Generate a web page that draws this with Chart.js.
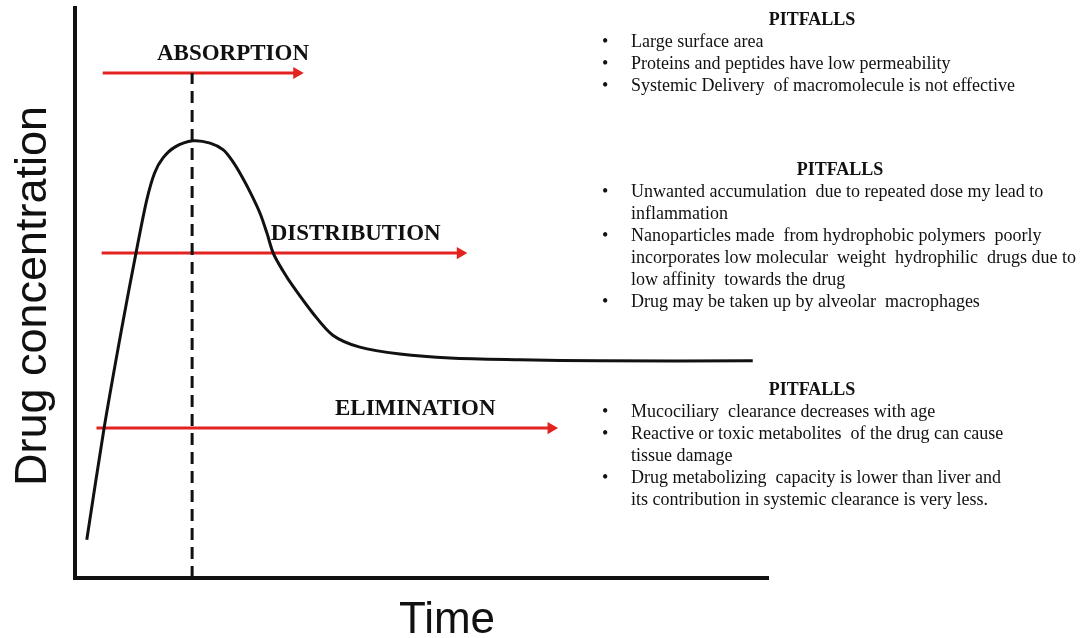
<!DOCTYPE html>
<html>
<head>
<meta charset="utf-8">
<script src="https://cdn.jsdelivr.net/npm/chart.js@4/dist/chart.umd.min.js"></script>
<style>
  body { margin:0; background:#fff; }
  #wrap { width:1083px; height:638px; }
</style>
</head>
<body>
<div id="wrap"><canvas id="myChart" width="1083" height="638"></canvas></div>
<script>
// 곡선 데이터 (x: 시간, y: 농도) - 그림에서 읽은 값
const timeVals = [1.7, 4.2, 6.7, 8.8, 10.35, 11.5, 12.7, 14.4, 17.0, 19.5, 21.4, 22.8, 24.1, 25.4, 26.7, 27.7, 28.6, 30.0, 31.5, 34.3, 37.2, 41.1, 46.9, 54.1, 64.2, 75.8, 97.8];
const concVals = [6.7, 26.3, 43.5, 57.0, 66.3, 71.1, 73.7, 75.6, 76.7, 76.3, 75.1, 73.0, 70.4, 67.4, 64.0, 60.5, 57.0, 53.9, 51.1, 46.5, 42.6, 40.5, 39.3, 38.6, 38.3, 38.1, 38.1];

// 피크 점선
const peakTime = 16.9;
const peakLineTop = 88.6;

// 단계 화살표 (시작x, 끝x, 높이)
const phaseNames = ['ABSORPTION', 'DISTRIBUTION', 'ELIMINATION'];
const arrowStart = [4.0, 3.85, 3.1];
const arrowEnd = [32.0, 55.6, 68.7];
const arrowLevel = [88.6, 57.0, 26.3];
const labelX = [22.8, 40.5, 49.1];

// 오른쪽 PITFALLS 텍스트
const pitfallTitle = 'PITFALLS';
const pitfalls = [
  [ ['Large surface area'],
    ['Proteins and peptides have low permeability'],
    ['Systemic Delivery  of macromolecule is not effective'] ],
  [ ['Unwanted accumulation  due to repeated dose my lead to', 'inflammation'],
    ['Nanoparticles made  from hydrophobic polymers  poorly', 'incorporates low molecular  weight  hydrophilic  drugs due to', 'low affinity  towards the drug'],
    ['Drug may be taken up by alveolar  macrophages'] ],
  [ ['Mucociliary  clearance decreases with age'],
    ['Reactive or toxic metabolites  of the drug can cause', 'tissue damage'],
    ['Drug metabolizing  capacity is lower than liver and', 'its contribution in systemic clearance is very less.'] ]
];

const RED = '#e3231f';
const serif = '"Liberation Serif", "Times New Roman", serif';
const sans = '"Liberation Sans", Arial, sans-serif';

let datasets = [];
datasets.push({
  data: timeVals.map((t, i) => ({ x: t, y: concVals[i] })),
  borderColor: '#111',
  borderWidth: 3,
  pointRadius: 0,
  tension: 0.3
});
datasets.push({
  data: [{ x: peakTime, y: 0 }, { x: peakTime, y: peakLineTop }],
  borderColor: '#111',
  borderWidth: 3,
  borderDash: [12, 7],
  pointRadius: 0
});
phaseNames.forEach((n, i) => {
  datasets.push({
    data: [{ x: arrowStart[i], y: arrowLevel[i] }, { x: arrowEnd[i], y: arrowLevel[i] }],
    borderColor: RED,
    backgroundColor: RED,
    borderWidth: 3,
    pointRadius: [0, 7],
    pointStyle: 'triangle',
    pointRotation: 90,
    pointBorderWidth: 0
  });
});

// 텍스트 그리는 플러그인
const textPlugin = {
  id: 'texts',
  afterDatasetsDraw(chart) {
    const c = chart.ctx;
    const xs = chart.scales.x, ys = chart.scales.y;
    c.save();
    c.fillStyle = '#111';

    // 축 제목
    c.font = '44px ' + sans;
    c.textAlign = 'center';
    c.textBaseline = 'alphabetic';
    c.fillText('Time', 447, 633);
    c.save();
    c.translate(46, 296);
    c.rotate(-Math.PI / 2);
    c.font = '45px ' + sans;
    c.fillText('Drug concentration', 0, 0);
    c.restore();

    // 단계 이름
    c.font = 'bold 23px ' + serif;
    phaseNames.forEach((n, i) => {
      c.fillText(n, xs.getPixelForValue(labelX[i]), ys.getPixelForValue(arrowLevel[i]) - 13);
    });

    // pitfalls
    const headX = [812, 840, 812];
    const headY = [25, 175, 395];
    pitfalls.forEach((block, b) => {
      c.font = 'bold 18px ' + serif;
      c.textAlign = 'center';
      c.fillText(pitfallTitle, headX[b], headY[b]);
      c.textAlign = 'left';
      c.font = '18px ' + serif;
      let y = headY[b] + 22;
      block.forEach(item => {
        c.fillText('•', 602, y);
        item.forEach(line => {
          c.fillText(line, 631, y);
          y += 22;
        });
      });
    });
    c.restore();
  }
};

new Chart(document.getElementById('myChart'), {
  type: 'line',
  data: { datasets: datasets },
  options: {
    responsive: false,
    animation: false,
    layout: { padding: { left: 75, top: 8, right: 315, bottom: 60 } },
    plugins: { legend: { display: false }, tooltip: { enabled: false } },
    scales: {
      x: {
        type: 'linear', min: 0, max: 100,
        ticks: { display: false },
        grid: { display: false, drawTicks: false },
        border: { display: true, width: 4, color: '#111' }
      },
      y: {
        min: 0, max: 100,
        ticks: { display: false },
        grid: { display: false, drawTicks: false },
        border: { display: true, width: 4, color: '#111' }
      }
    }
  },
  plugins: [textPlugin]
});
</script>
</body>
</html>
